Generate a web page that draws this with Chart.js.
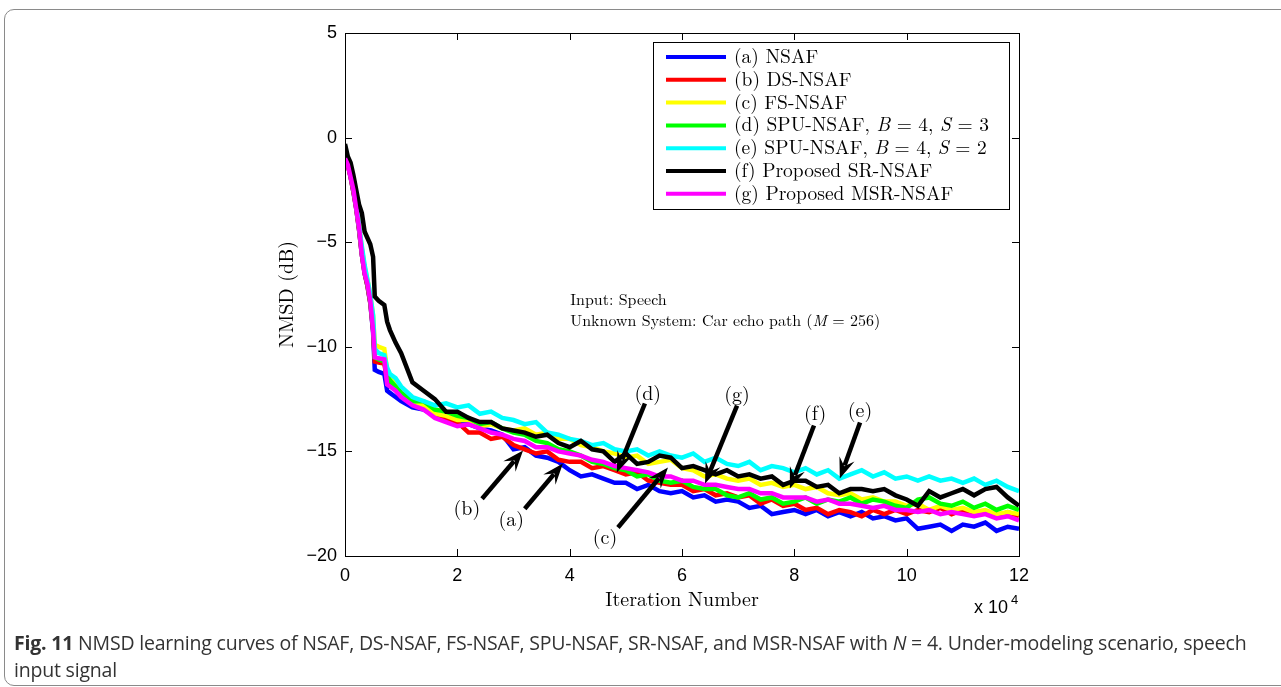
<!DOCTYPE html>
<html>
<head>
<meta charset="utf-8">
<script src="https://cdn.jsdelivr.net/npm/chart.js@4"></script>
<style>
  html, body { margin: 0; padding: 0; background: #fff; }
  body { width: 1281px; height: 687px; position: relative; overflow: hidden; }
  #frame { position: absolute; left: 4px; top: 9px; width: 1300px; height: 675px;
           border: 1.5px solid #8a8a8a; border-radius: 10px; }
  #plot { position: absolute; left: 0; top: 0; }
  #caption { position: absolute; left: 14px; top: 629px; width: 1245px;
             font-family: "Open Sans", "Noto Sans", sans-serif;
             font-size: 19.5px; line-height: 27px; color: #333; letter-spacing: -0.2px; }
</style>
</head>
<body>
<div id="frame"></div>
<canvas id="plot" width="1281" height="687"></canvas>
<div id="caption"><b>Fig. 11</b> NMSD learning curves of NSAF, DS-NSAF, FS-NSAF, SPU-NSAF, SR-NSAF, and MSR-NSAF with <i>N</i> = 4. Under-modeling scenario, speech input signal</div>
<script>
// iteration number (x 10^4)
const iterations = [0,0.05,0.1,0.15,0.2,0.25,0.3,0.35,0.4,0.45,0.5,0.53,0.6,0.7,0.75,0.8,0.9,
  1.0,1.2,1.4,1.6,1.8,2.0,2.2,2.4,2.6,2.8,3.0,3.2,3.4,3.6,3.8,4.0,4.2,4.4,4.6,4.8,
  5.0,5.2,5.4,5.6,5.8,6.0,6.2,6.4,6.6,6.8,7.0,7.2,7.4,7.6,7.8,8.0,8.2,8.4,8.6,8.8,
  9.0,9.2,9.4,9.6,9.8,10.0,10.2,10.4,10.6,10.8,11.0,11.2,11.4,11.6,11.8,12.0];

// NMSD (dB)
const nsaf = [-0.9,-1.3,-1.9,-2.6,-3.4,-4.4,-5.6,-6.5,-7.1,-7.9,-9.3,-11.1,-11.2,-11.3,-12.1,-12.2,-12.4,
  -12.6,-12.9,-13.0,-13.3,-13.5,-13.7,-13.7,-13.9,-14.0,-14.2,-14.9,-14.8,-15.2,-15.3,-15.5,-15.9,-16.2,-16.1,-16.3,-16.5,
  -16.5,-16.8,-16.6,-16.9,-17.0,-16.9,-17.2,-17.1,-17.4,-17.3,-17.4,-17.7,-17.6,-18.0,-17.9,-17.8,-18.0,-17.8,-18.1,-17.9,
  -18.1,-17.9,-18.2,-18.1,-18.3,-18.2,-18.7,-18.6,-18.5,-18.8,-18.5,-18.6,-18.4,-18.8,-18.6,-18.7];
const dsNsaf = [-0.9,-1.3,-1.9,-2.6,-3.4,-4.4,-5.6,-6.5,-7.1,-7.9,-9.2,-10.7,-10.75,-10.8,-11.6,-11.8,-12.0,
  -12.3,-12.7,-12.8,-13.3,-13.4,-13.6,-14.1,-14.1,-14.4,-14.3,-14.7,-14.9,-15.1,-15.0,-15.4,-15.5,-15.5,-15.8,-15.7,-15.9,
  -16.1,-16.0,-16.4,-16.5,-16.6,-16.6,-16.9,-16.8,-17.1,-17.0,-17.2,-17.1,-17.5,-17.3,-17.6,-17.5,-17.8,-17.7,-18.0,-17.8,
  -17.9,-18.1,-17.8,-18.0,-17.8,-18.0,-17.8,-17.9,-17.7,-18.0,-17.8,-18.0,-17.9,-18.1,-17.9,-18.1];
const fsNsaf = [-0.5,-1.1,-1.7,-2.4,-3.2,-4.2,-5.3,-6.2,-6.8,-7.5,-8.5,-9.9,-10.0,-10.1,-11.1,-11.4,-11.8,
  -12.1,-12.6,-12.8,-13.2,-13.3,-13.5,-13.5,-13.8,-13.7,-13.9,-14.0,-13.9,-14.2,-14.1,-14.4,-14.4,-14.7,-14.8,-15.0,-15.1,
  -15.3,-15.2,-15.6,-15.5,-15.4,-15.8,-15.9,-16.2,-16.1,-16.3,-16.4,-16.3,-16.6,-16.5,-16.7,-16.6,-16.8,-16.7,-17.0,-17.1,
  -17.0,-17.3,-17.2,-17.4,-17.4,-17.6,-17.5,-17.8,-17.6,-17.8,-17.7,-17.9,-17.8,-18.0,-17.9,-18.0];
const spuNsafS3 = [-0.8,-1.2,-1.8,-2.5,-3.3,-4.3,-5.5,-6.4,-7.0,-7.8,-9.0,-10.5,-10.6,-10.7,-11.4,-11.6,-11.9,
  -12.2,-12.6,-12.6,-13.0,-13.1,-13.3,-13.4,-13.7,-13.6,-13.9,-14.1,-14.2,-14.5,-14.6,-14.9,-15.0,-15.2,-15.5,-15.6,-15.8,
  -15.9,-16.2,-16.1,-16.4,-16.5,-16.4,-16.7,-16.8,-16.8,-17.1,-17.2,-17.0,-17.3,-17.2,-17.5,-17.4,-17.2,-17.5,-17.3,-17.4,
  -17.2,-17.5,-17.3,-17.4,-17.6,-17.7,-17.3,-17.2,-17.5,-17.6,-17.4,-17.7,-17.5,-17.8,-17.6,-17.8];
const spuNsafS2 = [-0.4,-1.0,-1.6,-2.3,-3.2,-4.2,-5.2,-6.1,-6.8,-7.5,-8.5,-10.1,-10.3,-10.4,-11.0,-11.3,-11.5,
  -11.9,-12.4,-12.6,-12.8,-12.7,-12.9,-12.8,-13.2,-13.1,-13.4,-13.5,-13.7,-13.6,-14.1,-14.2,-14.4,-14.5,-14.7,-14.6,-14.9,
  -15.0,-14.9,-15.2,-15.0,-15.2,-15.3,-15.1,-15.5,-15.3,-15.6,-15.7,-15.5,-15.9,-15.7,-15.8,-16.0,-15.8,-16.1,-15.9,-16.3,
  -16.1,-15.9,-16.2,-16.0,-16.3,-16.2,-16.4,-16.2,-16.4,-16.3,-16.5,-16.3,-16.6,-16.4,-16.7,-16.9];
const srNsaf = [-0.3,-0.9,-1.2,-1.8,-2.5,-3.2,-3.6,-4.5,-4.8,-5.1,-5.7,-7.6,-7.8,-8.0,-8.8,-9.2,-9.8,
  -10.3,-11.7,-12.1,-12.5,-13.1,-13.1,-13.4,-13.6,-13.6,-13.9,-14.0,-14.1,-14.3,-14.2,-14.6,-14.8,-14.5,-14.9,-15.0,-15.5,
  -15.1,-15.6,-15.5,-15.2,-15.3,-15.8,-15.7,-15.9,-16.1,-15.9,-16.2,-16.1,-16.3,-16.2,-16.6,-16.4,-16.4,-16.7,-16.6,-17.0,
  -16.8,-16.8,-16.9,-16.8,-17.1,-17.3,-17.6,-16.9,-17.2,-17.0,-16.8,-17.1,-16.8,-16.7,-17.2,-17.6];
const msrNsaf = [-1.0,-1.3,-1.9,-2.5,-3.4,-4.3,-5.6,-6.5,-7.0,-7.8,-9.2,-10.5,-10.55,-10.6,-11.8,-11.9,-12.1,
  -12.4,-12.8,-13.0,-13.4,-13.6,-13.8,-13.7,-13.9,-14.1,-14.2,-14.4,-14.5,-14.8,-14.8,-15.0,-15.1,-15.2,-15.4,-15.5,-15.7,
  -15.8,-15.9,-16.0,-16.2,-16.2,-16.4,-16.4,-16.6,-16.6,-16.7,-16.8,-16.8,-17.0,-17.0,-17.2,-17.2,-17.2,-17.4,-17.3,-17.5,
  -17.5,-17.6,-17.7,-17.6,-17.8,-17.8,-17.9,-17.8,-18.0,-17.9,-18.0,-18.1,-18.0,-18.2,-18.1,-18.3];

const seriesNames = ['(a) NSAF', '(b) DS-NSAF', '(c) FS-NSAF', '(d) SPU-NSAF, B = 4, S = 3',
  '(e) SPU-NSAF, B = 4, S = 2', '(f) Proposed SR-NSAF', '(g) Proposed MSR-NSAF'];
const seriesValues = [nsaf, dsNsaf, fsNsaf, spuNsafS3, spuNsafS2, srNsaf, msrNsaf];
const colors = ['#0000ff', '#ff0000', '#ffff00', '#00ff00', '#00ffff', '#000000', '#ff00ff'];

// legend entries, italic runs for the math symbols
const legendRuns = [
  [['(a) NSAF', 0]],
  [['(b) DS-NSAF', 0]],
  [['(c) FS-NSAF', 0]],
  [['(d) SPU-NSAF, ', 0], ['B', 1], [' = 4, ', 0], ['S', 1], [' = 3', 0]],
  [['(e) SPU-NSAF, ', 0], ['B', 1], [' = 4, ', 0], ['S', 1], [' = 2', 0]],
  [['(f) Proposed SR-NSAF', 0]],
  [['(g) Proposed MSR-NSAF', 0]]
];

// arrow annotations in data units: label, label pos, tail, tip
const arrows = [
  ['(b)', 2.17, -17.74, 2.44, -17.26, 3.17, -14.96],
  ['(a)', 2.96, -18.26, 3.20, -17.74, 3.88, -15.58],
  ['(c)', 4.63, -19.12, 4.86, -18.64, 5.75, -15.77],
  ['(d)', 5.39, -12.23, 5.34, -12.71, 4.84, -16.01],
  ['(g)', 6.98, -12.28, 6.98, -12.81, 6.41, -16.54],
  ['(f)', 8.37, -13.19, 8.35, -13.76, 7.92, -16.77],
  ['(e)', 9.17, -13.05, 9.17, -13.62, 8.81, -16.30]
];

const serif = '"Latin Modern Roman", "CMU Serif", "Liberation Serif", serif';
const sans = '"Liberation Sans", Arial, sans-serif';

const datasets = seriesValues.map((vals, i) => ({
  label: seriesNames[i],
  data: iterations.map((x, k) => ({ x: x, y: vals[k] })),
  borderColor: colors[i],
  backgroundColor: colors[i],
  borderWidth: 4.5,
  pointRadius: 0,
  tension: 0,
  order: seriesValues.length - i
}));

function drawRuns(ctx, runs, x, y, size) {
  runs.forEach(([t, it]) => {
    ctx.font = (it ? 'italic ' : '') + size + 'px ' + serif;
    ctx.fillText(t, x, y);
    x += ctx.measureText(t).width;
  });
}

const decor = {
  id: 'decor',
  afterDatasetsDraw(chart) {
    const ctx = chart.ctx;
    const a = chart.chartArea;
    const xs = chart.scales.x, ys = chart.scales.y;
    ctx.save();

    // box and inward ticks
    ctx.strokeStyle = '#000';
    ctx.lineWidth = 1;
    ctx.strokeRect(a.left + 0.5, a.top + 0.5, a.right - a.left, a.bottom - a.top);
    ctx.beginPath();
    for (let v = 0; v <= 12; v += 2) {
      const px = Math.round(xs.getPixelForValue(v)) + 0.5;
      ctx.moveTo(px, a.bottom); ctx.lineTo(px, a.bottom - 7);
      ctx.moveTo(px, a.top); ctx.lineTo(px, a.top + 7);
    }
    for (let v = -20; v <= 5; v += 5) {
      const py = Math.round(ys.getPixelForValue(v)) + 0.5;
      ctx.moveTo(a.left, py); ctx.lineTo(a.left + 7, py);
      ctx.moveTo(a.right, py); ctx.lineTo(a.right - 7, py);
    }
    ctx.stroke();

    // axis titles
    ctx.fillStyle = '#000';
    ctx.textAlign = 'center';
    ctx.textBaseline = 'middle';
    ctx.font = '20px ' + serif;
    ctx.fillText('Iteration Number', (a.left + a.right) / 2, a.bottom + 44);
    ctx.save();
    ctx.translate(a.left - 58, (a.top + a.bottom) / 2);
    ctx.rotate(-Math.PI / 2);
    ctx.fillText('NMSD (dB)', 0, 0);
    ctx.restore();

    // exponent
    ctx.textAlign = 'left';
    ctx.font = '18px ' + sans;
    ctx.fillText('x 10', a.right - 45, a.bottom + 52);
    ctx.font = '13px ' + sans;
    ctx.fillText('4', a.right - 8, a.bottom + 44);

    // info text
    ctx.font = '16px ' + serif;
    ctx.fillText('Input: Speech', xs.getPixelForValue(4.01), ys.getPixelForValue(-7.78));
    drawRuns(ctx, [['Unknown System: Car echo path (', 0], ['M', 1], [' = 256)', 0]],
      xs.getPixelForValue(4.01), ys.getPixelForValue(-8.79), 16);

    // arrows
    arrows.forEach(([lab, lx, ly, tx, ty, hx, hy]) => {
      const x0 = xs.getPixelForValue(tx), y0 = ys.getPixelForValue(ty);
      const x1 = xs.getPixelForValue(hx), y1 = ys.getPixelForValue(hy);
      const ang = Math.atan2(y1 - y0, x1 - x0);
      const c = Math.cos(ang), s = Math.sin(ang);
      const hl = 18, hw = 8;
      const bx = x1 - hl * c, by = y1 - hl * s;
      ctx.strokeStyle = '#000';
      ctx.lineWidth = 4.5;
      ctx.beginPath();
      ctx.moveTo(x0, y0);
      ctx.lineTo(bx + 4 * c, by + 4 * s);
      ctx.stroke();
      ctx.beginPath();
      ctx.moveTo(x1, y1);
      ctx.lineTo(bx - hw * s - 3 * c, by + hw * c - 3 * s);
      ctx.lineTo(bx + 5 * c, by + 5 * s);
      ctx.lineTo(bx + hw * s - 3 * c, by - hw * c - 3 * s);
      ctx.closePath();
      ctx.fillStyle = '#000';
      ctx.fill();
      ctx.font = '20px ' + serif;
      ctx.textAlign = 'center';
      ctx.fillText(lab, xs.getPixelForValue(lx), ys.getPixelForValue(ly));
    });

    // legend
    const L = a.left + 308, T = a.top + 9, W = 356, H = 167;
    ctx.fillStyle = '#fff';
    ctx.fillRect(L, T, W, H);
    ctx.strokeStyle = '#000';
    ctx.lineWidth = 1;
    ctx.strokeRect(L + 0.5, T + 0.5, W, H);
    ctx.textAlign = 'left';
    ctx.textBaseline = 'middle';
    legendRuns.forEach((runs, i) => {
      const y = T + 15 + i * 22.8;
      ctx.strokeStyle = colors[i];
      ctx.lineWidth = 4;
      ctx.beginPath();
      ctx.moveTo(L + 13, y); ctx.lineTo(L + 73, y);
      ctx.stroke();
      ctx.fillStyle = '#000';
      drawRuns(ctx, runs, L + 81, y, 19.5);
    });
    ctx.restore();
  }
};

const tickFont = { family: sans, size: 18 };
const minusFmt = v => String(v).replace('-', '\u2212');

new Chart(document.getElementById('plot'), {
  type: 'line',
  data: { datasets: datasets },
  options: {
    responsive: false,
    animation: false,
    events: [],
    layout: { padding: { left: 0, right: 262, top: 33, bottom: 0 } },
    plugins: { legend: { display: false }, tooltip: { enabled: false } },
    scales: {
      x: {
        type: 'linear', min: 0, max: 12,
        afterFit: s => { s.height = 131; },
        grid: { display: false, drawTicks: false },
        border: { display: false },
        ticks: { stepSize: 2, padding: 9, color: '#000', maxRotation: 0, font: tickFont }
      },
      y: {
        type: 'linear', min: -20, max: 5,
        afterFit: s => { s.width = 345; },
        grid: { display: false, drawTicks: false },
        border: { display: false },
        ticks: { stepSize: 5, padding: 8, color: '#000', font: tickFont, callback: minusFmt }
      }
    }
  },
  plugins: [decor]
});
</script>
</body>
</html>
